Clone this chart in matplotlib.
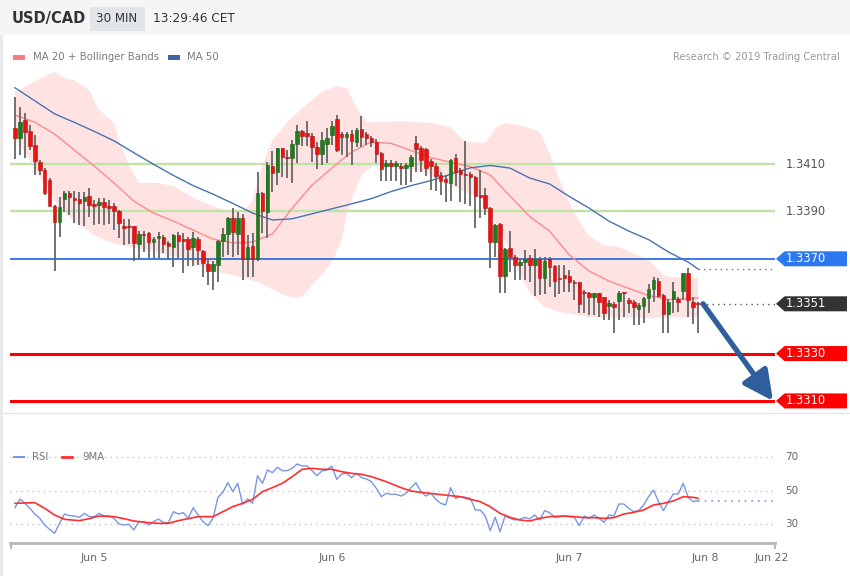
import numpy as np
import matplotlib
matplotlib.use("Agg")
import matplotlib.pyplot as plt
from matplotlib.patches import Polygon, Rectangle
from matplotlib.lines import Line2D
from matplotlib.transforms import IdentityTransform

plt.rcParams['font.family'] = ['DejaVu Sans']

# ---------------- data ----------------
opens = [1.34253, 1.34211, 1.34286, 1.34239, 1.34180, 1.34107, 1.34076, 1.34032, 1.33924, 1.33854,
         1.33952, 1.33976, 1.33955, 1.33952, 1.33944, 1.33966, 1.33930, 1.33927, 1.33941, 1.33921,
         1.33924, 1.33902, 1.33838, 1.33838, 1.33837, 1.33764, 1.33806, 1.33809, 1.33770, 1.33786,
         1.33792, 1.33765, 1.33751, 1.33800, 1.33782, 1.33782, 1.33748, 1.33782, 1.33733, 1.33678,
         1.33650, 1.33674, 1.33776, 1.33805, 1.33871, 1.33805, 1.33871, 1.33698, 1.33755, 1.33698,
         1.33979, 1.33899, 1.34092, 1.34068, 1.34166, 1.34131, 1.34124, 1.34184, 1.34239, 1.34230,
         1.34218, 1.34173, 1.34141, 1.34183, 1.34222, 1.34289, 1.34225, 1.34215, 1.34225, 1.34194,
         1.34246, 1.34225, 1.34208, 1.34192, 1.34145, 1.34092, 1.34105, 1.34092, 1.34093, 1.34084,
         1.34093, 1.34187, 1.34166, 1.34162, 1.34114, 1.34093, 1.34054, 1.34035, 1.34019, 1.34124,
         1.34075, 1.34058, 1.34058, 1.34046, 1.33969, 1.33969, 1.33913, 1.33770, 1.33846, 1.33629,
         1.33744, 1.33709, 1.33674, 1.33685, 1.33705, 1.33674, 1.33698, 1.33620, 1.33698, 1.33670,
         1.33620, 1.33632, 1.33629, 1.33603, 1.33601, 1.33561, 1.33557, 1.33537, 1.33554, 1.33537,
         1.33502, 1.33509, 1.33523, 1.33559, 1.33526, 1.33519, 1.33487, 1.33502, 1.33533, 1.33571,
         1.33608, 1.33547, 1.33466, 1.33529, 1.33530, 1.33564, 1.33639, 1.33519, 1.33510]
highs = [1.34384, 1.34342, 1.34315, 1.34265, 1.34222, 1.34117, 1.34083, 1.34041, 1.33926, 1.33962,
         1.33986, 1.33986, 1.33986, 1.33982, 1.33982, 1.33999, 1.33948, 1.33957, 1.33957, 1.33948,
         1.33935, 1.33906, 1.33868, 1.33868, 1.33840, 1.33817, 1.33817, 1.33814, 1.33793, 1.33814,
         1.33800, 1.33776, 1.33803, 1.33814, 1.33808, 1.33793, 1.33814, 1.33793, 1.33737, 1.33702,
         1.33692, 1.33779, 1.33829, 1.33878, 1.33913, 1.33899, 1.33889, 1.33800, 1.33808, 1.34068,
         1.33983, 1.34110, 1.34156, 1.34169, 1.34168, 1.34159, 1.34201, 1.34265, 1.34243, 1.34283,
         1.34230, 1.34194, 1.34236, 1.34251, 1.34283, 1.34307, 1.34236, 1.34236, 1.34243, 1.34251,
         1.34303, 1.34236, 1.34218, 1.34204, 1.34152, 1.34117, 1.34117, 1.34113, 1.34105, 1.34105,
         1.34138, 1.34218, 1.34176, 1.34166, 1.34120, 1.34103, 1.34068, 1.34054, 1.34120, 1.34142,
         1.34082, 1.34198, 1.34068, 1.34049, 1.34075, 1.33997, 1.33917, 1.33845, 1.33850, 1.33744,
         1.33819, 1.33716, 1.33702, 1.33737, 1.33716, 1.33741, 1.33706, 1.33706, 1.33706, 1.33674,
         1.33674, 1.33674, 1.33653, 1.33610, 1.33603, 1.33568, 1.33561, 1.33557, 1.33557, 1.33540,
         1.33526, 1.33519, 1.33565, 1.33561, 1.33533, 1.33526, 1.33512, 1.33540, 1.33592, 1.33622,
         1.33620, 1.33550, 1.33530, 1.33603, 1.33540, 1.33641, 1.33660, 1.33537, 1.33518]
lows = [1.34121, 1.34138, 1.34125, 1.34159, 1.34054, 1.34054, 1.33969, 1.33923, 1.33650, 1.33791,
        1.33897, 1.33885, 1.33851, 1.33843, 1.33838, 1.33878, 1.33843, 1.33847, 1.33843, 1.33847,
        1.33821, 1.33788, 1.33758, 1.33762, 1.33691, 1.33699, 1.33730, 1.33702, 1.33702, 1.33702,
        1.33724, 1.33695, 1.33667, 1.33702, 1.33640, 1.33670, 1.33670, 1.33674, 1.33624, 1.33589,
        1.33568, 1.33603, 1.33709, 1.33716, 1.33709, 1.33716, 1.33610, 1.33624, 1.33624, 1.33690,
        1.33808, 1.33786, 1.33983, 1.34011, 1.34046, 1.34040, 1.34021, 1.34103, 1.34176, 1.34176,
        1.34110, 1.34079, 1.34096, 1.34103, 1.34180, 1.34152, 1.34138, 1.34131, 1.34096, 1.34173,
        1.34173, 1.34180, 1.34173, 1.34103, 1.34030, 1.34030, 1.34030, 1.34030, 1.34011, 1.34011,
        1.34025, 1.34068, 1.34068, 1.34049, 1.33990, 1.33987, 1.33969, 1.33941, 1.33945, 1.34007,
        1.33941, 1.33931, 1.33923, 1.33831, 1.33871, 1.33885, 1.33660, 1.33709, 1.33557, 1.33557,
        1.33646, 1.33610, 1.33610, 1.33610, 1.33603, 1.33544, 1.33547, 1.33551, 1.33582, 1.33540,
        1.33551, 1.33561, 1.33561, 1.33526, 1.33470, 1.33470, 1.33463, 1.33463, 1.33456, 1.33442,
        1.33442, 1.33388, 1.33442, 1.33456, 1.33470, 1.33421, 1.33421, 1.33428, 1.33470, 1.33519,
        1.33540, 1.33388, 1.33388, 1.33473, 1.33477, 1.33526, 1.33456, 1.33425, 1.33388]
closes = [1.34211, 1.34276, 1.34236, 1.34177, 1.34113, 1.34076, 1.33978, 1.33924, 1.33854, 1.33919,
          1.33976, 1.33959, 1.33949, 1.33935, 1.33959, 1.33927, 1.33924, 1.33940, 1.33917, 1.33916,
          1.33902, 1.33850, 1.33831, 1.33833, 1.33767, 1.33803, 1.33802, 1.33770, 1.33783, 1.33796,
          1.33762, 1.33753, 1.33800, 1.33775, 1.33775, 1.33741, 1.33789, 1.33737, 1.33681, 1.33650,
          1.33678, 1.33775, 1.33805, 1.33871, 1.33812, 1.33871, 1.33698, 1.33751, 1.33698, 1.33979,
          1.33902, 1.34096, 1.34063, 1.34166, 1.34131, 1.34125, 1.34183, 1.34239, 1.34218, 1.34219,
          1.34173, 1.34141, 1.34201, 1.34211, 1.34260, 1.34159, 1.34215, 1.34225, 1.34198, 1.34243,
          1.34215, 1.34208, 1.34192, 1.34141, 1.34079, 1.34103, 1.34092, 1.34103, 1.34084, 1.34096,
          1.34131, 1.34162, 1.34117, 1.34082, 1.34093, 1.34051, 1.34028, 1.34023, 1.34117, 1.34068,
          1.34058, 1.34054, 1.34046, 1.33966, 1.33962, 1.33913, 1.33770, 1.33843, 1.33629, 1.33741,
          1.33709, 1.33674, 1.33688, 1.33698, 1.33674, 1.33698, 1.33620, 1.33691, 1.33667, 1.33606,
          1.33616, 1.33620, 1.33601, 1.33599, 1.33508, 1.33557, 1.33537, 1.33554, 1.33519, 1.33470,
          1.33515, 1.33498, 1.33557, 1.33554, 1.33515, 1.33498, 1.33505, 1.33533, 1.33571, 1.33610,
          1.33543, 1.33466, 1.33519, 1.33564, 1.33516, 1.33639, 1.33526, 1.33495, 1.33510]

ma20_idx = [0, 4, 8, 12, 16, 20, 24, 28, 32, 36, 40, 44, 48, 52, 56, 60, 64, 68, 72, 76, 80, 84,
            88, 92, 96, 100, 104, 108, 112, 116, 120, 124, 128, 132, 136, 138]
ma20 = [1.34307, 1.34277, 1.34227, 1.34159, 1.34092, 1.34020, 1.33944, 1.33893, 1.33859, 1.33821,
        1.33783, 1.33767, 1.33771, 1.33805, 1.33914, 1.34011, 1.34083, 1.34151, 1.34194, 1.34187,
        1.34157, 1.34127, 1.34108, 1.34089, 1.34054, 1.33965, 1.33878, 1.33817, 1.33716, 1.33648,
        1.33606, 1.33575, 1.33545, 1.33528, 1.33532, 1.33535]
ma50_idx = ma20_idx
ma50 = [1.34422, 1.34367, 1.34312, 1.34276, 1.34238, 1.34198, 1.34148, 1.34099, 1.34052, 1.34009,
        1.33973, 1.33934, 1.33893, 1.33864, 1.33869, 1.33890, 1.33911, 1.33932, 1.33954, 1.33984,
        1.34009, 1.34030, 1.34057, 1.34084, 1.34094, 1.34083, 1.34041, 1.34016, 1.33963, 1.33914,
        1.33859, 1.33817, 1.33781, 1.33729, 1.33686, 1.33657]
bb_up_idx = [0, 3, 6, 8, 10, 12, 15, 17, 20, 21, 23, 25, 29, 32, 37, 41, 46, 48, 50, 52, 55, 58,
             62, 65, 67, 69, 71, 78, 84, 88, 91, 95, 97, 99, 102, 106, 108, 110, 113, 116, 119,
             122, 128, 131, 132, 138]
bb_up = [1.34404, 1.34438, 1.34471, 1.34488, 1.34463, 1.34454, 1.34412, 1.34328, 1.34273, 1.34201,
         1.34096, 1.34020, 1.34020, 1.34007, 1.33948, 1.33914, 1.33893, 1.33948, 1.34096, 1.34201,
         1.34277, 1.34336, 1.34404, 1.34429, 1.34421, 1.34336, 1.34277, 1.34281, 1.34273, 1.34256,
         1.34193, 1.34189, 1.34252, 1.34273, 1.34265, 1.34235, 1.34146, 1.34032, 1.33893, 1.33796,
         1.33758, 1.33750, 1.33695, 1.33632, 1.33623, 1.33619]
bb_lo_idx = [0, 3, 6, 9, 13, 16, 19, 26, 34, 37, 41, 45, 49, 53, 56, 58, 60, 62, 64, 66, 67, 68,
             70, 73, 78, 84, 90, 95, 97, 100, 102, 104, 107, 110, 116, 128, 138]
bb_lo = [1.34210, 1.34117, 1.34011, 1.33914, 1.33843, 1.33800, 1.33771, 1.33737, 1.33703, 1.33674,
         1.33644, 1.33627, 1.33602, 1.33560, 1.33535, 1.33539, 1.33589, 1.33632, 1.33686, 1.33779,
         1.33885, 1.33948, 1.34054, 1.34104, 1.34096, 1.34054, 1.33990, 1.33948, 1.33855, 1.33737,
         1.33632, 1.33556, 1.33497, 1.33475, 1.33454, 1.33450, 1.33454]

rsi = [39.8, 45.0, 42.4, 39.4, 36.0, 33.4, 29.4, 26.8, 24.4, 30.4,
       36.0, 35.0, 34.8, 34.0, 36.4, 34.4, 34.4, 36.4, 34.8, 34.8,
       33.4, 30.0, 29.4, 29.8, 26.4, 31.4, 31.4, 29.4, 31.4, 33.0,
       30.8, 30.8, 37.4, 36.0, 36.8, 33.4, 39.8, 35.4, 31.4, 29.0,
       33.4, 46.0, 49.0, 54.8, 49.4, 54.4, 41.8, 45.0, 42.4, 59.0,
       54.4, 62.4, 60.8, 64.0, 62.0, 62.0, 63.4, 66.0, 64.8, 64.8,
       62.0, 59.0, 61.8, 62.4, 64.8, 56.8, 60.0, 60.4, 57.8, 60.4,
       57.8, 57.0, 55.4, 51.4, 46.4, 48.4, 47.8, 47.8, 46.8, 48.4,
       51.8, 54.8, 49.4, 46.8, 48.4, 44.8, 42.4, 41.4, 51.8, 45.4,
       46.4, 46.0, 45.4, 38.4, 38.4, 34.8, 26.0, 34.0, 25.4, 34.8,
       33.4, 32.4, 32.8, 34.0, 33.0, 35.4, 32.4, 38.0, 36.8, 34.0,
       34.4, 34.8, 34.4, 34.0, 29.0, 34.8, 33.4, 35.4, 33.4, 31.0,
       35.4, 34.8, 42.0, 42.0, 39.4, 37.4, 38.0, 41.4, 46.4, 50.4,
       43.4, 38.0, 43.4, 48.0, 48.0, 54.4, 46.0, 43.4, 44.0]
ma9_idx = [0, 4, 6, 8, 10, 13, 15, 17, 20, 22, 24, 27, 29, 31, 33, 35, 37, 40, 42, 44, 46, 48,
           50, 52, 54, 56, 58, 60, 62, 64, 66, 68, 70, 72, 75, 78, 80, 82, 85, 88, 90, 92, 94,
           96, 98, 100, 102, 104, 106, 108, 111, 113, 115, 117, 119, 121, 123, 125, 127, 129,
           131, 133, 135, 137, 138]
ma9 = [42.4, 42.8, 39.4, 35.4, 32.8, 32.0, 33.2, 34.8, 34.4, 33.2, 31.8, 30.8, 30.4, 30.4, 32.0,
       33.2, 34.4, 34.4, 37.4, 40.4, 42.4, 44.8, 49.4, 51.8, 54.4, 58.4, 62.8, 63.4, 62.8, 62.8,
       61.4, 60.4, 59.8, 58.4, 55.4, 51.8, 49.8, 49.0, 48.0, 47.0, 46.4, 44.8, 43.4, 40.4, 36.4,
       34.0, 32.4, 31.8, 33.4, 34.4, 34.8, 34.4, 33.8, 33.8, 33.4, 33.8, 36.0, 37.0, 38.4, 41.4,
       42.4, 43.8, 46.4, 46.0, 45.4]

levels_support = [1.3410, 1.3390]
level_pivot = 1.3370
last_price = closes[-1]
targets = [1.3330, 1.3310]
day_ticks = [16, 64, 112, 139.4, 152.9]
day_labels = ["Jun 5", "Jun 6", "Jun 7", "Jun 8", "Jun 22"]
rsi_levels = [30, 50, 70]

# ---------------- figure ----------------
W, H = 850, 576
fig = plt.figure(figsize=(W / 100, H / 100), dpi=100)
fig.patch.set_facecolor('white')


def fx(px):
    return px / W


def fy(py):
    return 1 - py / H


# header band
fig.add_artist(Rectangle((0, fy(35)), 1, 35 / H, transform=fig.transFigure,
                         facecolor='#f5f5f5', edgecolor='none', zorder=0))
fig.add_artist(Rectangle((fx(90), fy(31)), fx(55), 24 / H, transform=fig.transFigure,
                         facecolor='#e1e4e8', edgecolor='none', zorder=1))
fig.text(fx(12), fy(19), "USD/CAD", fontsize=10.5, fontweight='bold', color='#333333', va='center')
fig.text(fx(96.5), fy(19), "30 MIN", fontsize=8.6, color='#333333', va='center')
fig.text(fx(153), fy(19), "13:29:46 CET", fontsize=8.7, color='#333333', va='center')
# left border and separator
fig.add_artist(Line2D([fx(1), fx(1)], [fy(36), 0], transform=fig.transFigure, color='#e8e8e8', lw=2))
fig.add_artist(Line2D([fx(0), 1], [fy(413), fy(413)], transform=fig.transFigure, color='#e6e6e6', lw=1))

# legend main
fig.add_artist(Rectangle((fx(13), fy(59.5)), fx(12), 4.5 / H, transform=fig.transFigure,
                         facecolor='#ff7b7b', edgecolor='none'))
fig.text(fx(33), fy(57), "MA 20 + Bollinger Bands", fontsize=7.3, color='#7a7a7a', va='center')
fig.add_artist(Rectangle((fx(168), fy(59.5)), fx(12), 4.5 / H, transform=fig.transFigure,
                         facecolor='#3c64a6', edgecolor='none'))
fig.text(fx(187), fy(57), "MA 50", fontsize=7.3, color='#7a7a7a', va='center')
fig.text(fx(840), fy(57), "Research \u00a9 2019 Trading Central", fontsize=7.2, color='#9a9a9a',
         va='center', ha='right')

# ---------------- main axes ----------------
x_min, x_max = -1.01, 153.54
ax = fig.add_axes([fx(10), fy(413), fx(765), (413 - 66) / H])
ax.set_xlim(x_min, x_max)
ax.set_ylim(1.33049, 1.34514)
ax.axis('off')

# Bollinger band
poly_x = np.r_[bb_up_idx, bb_lo_idx[::-1]]
poly_y = np.r_[bb_up, bb_lo[::-1]]
ax.fill(poly_x, poly_y, color='#ffe3e3', lw=0, zorder=1)

for lv in levels_support:
    ax.axhline(lv, color='#bfe2a6', lw=1.7, zorder=2)
ax.axhline(level_pivot, color='#2f6fe0', lw=1.3, zorder=2)
for lv in targets:
    ax.axhline(lv, color='#ff0000', lw=2.2, zorder=2)

n = len(closes)
idx = np.arange(n)
ax.plot(ma20_idx, ma20, color='#ff8a8a', lw=1.0, zorder=3)
ax.plot(ma50_idx, ma50, color='#4872b4', lw=1.0, zorder=3)
ax.hlines(ma50[-1], ma50_idx[-1], x_max, color='#4872b4', lw=1.0, linestyles=(0, (1, 3)), zorder=3)
ax.hlines(last_price, n - 0.5, x_max, color='#555555', lw=1.0, linestyles=(0, (1, 3)), zorder=3)

o = np.array(opens); h = np.array(highs); l = np.array(lows); c = np.array(closes)
up = c > o
ax.vlines(idx, l, h, color='#666666', lw=1.3, zorder=4)
body_bottom = np.minimum(o, c)
body_h = np.maximum(np.abs(c - o), 0.00004)
cols = np.where(up, '#1d7d1d', '#ee1111')
edges = np.where(up, '#195f19', '#b01010')
ax.bar(idx, body_h, bottom=body_bottom, width=0.72, color=cols, edgecolor=edges, lw=0.4, zorder=5)

# forecast arrow
ax.annotate('', xy=(x_max - 0.4, targets[-1]), xytext=(n, last_price),
            arrowprops=dict(arrowstyle='-|>,head_length=0.9,head_width=0.45', lw=3.8,
                            color='#2e5e9c', shrinkA=0, shrinkB=0, mutation_scale=20),
            annotation_clip=False, zorder=6)

fig.canvas.draw()


def tag(price, color, text, boxed=True):
    y = ax.transData.transform((0, price))[1]
    if boxed:
        pts = [(776, y), (784.5, y + 7.5), (847, y + 7.5), (847, y - 7.5), (784.5, y - 7.5)]
        fig.add_artist(Polygon(pts, closed=True, transform=IdentityTransform(),
                               facecolor=color, edgecolor='none'))
        fig.text(786, y, text, transform=IdentityTransform(), fontsize=8.3, color='white',
                 va='center', ha='left')
    else:
        fig.text(786, y, text, transform=IdentityTransform(), fontsize=8.3, color='#555555',
                 va='center', ha='left')


for lv in levels_support:
    tag(lv, None, f"{lv:.4f}", boxed=False)
tag(level_pivot, '#2b78f0', f"{level_pivot:.4f}")
tag(last_price, '#333333', f"{last_price:.4f}")
for lv in targets:
    tag(lv, '#ff0000', f"{lv:.4f}")

# ---------------- RSI axes ----------------
rax = fig.add_axes([fx(10), fy(543), fx(765), 98 / H])
rax.set_xlim(x_min, x_max)
rax.set_ylim(18.6, 77.4)
for s in ['top', 'left', 'right']:
    rax.spines[s].set_visible(False)
rax.spines['bottom'].set_color('#b8b8b8')
rax.spines['bottom'].set_linewidth(2)
rax.set_yticks([])
rax.set_xticks(day_ticks)
rax.set_xticklabels(day_labels, fontsize=7.8, color='#666666')
rax.tick_params(axis='x', length=0, pad=7)
for v in rsi_levels:
    rax.axhline(v, color='#c4c4c4', lw=1, ls=(0, (1, 3)))
rax.plot(idx, rsi, color='#7896e6', lw=1.0)
rax.hlines(rsi[-1], n - 1, x_max - 0.3, color='#7896e6', lw=1.2, linestyles=(0, (1, 3)))
rax.plot(ma9_idx, ma9, color='#ff2f2f', lw=1.2)
fig.canvas.draw()
for v in rsi_levels:
    y = rax.transData.transform((0, v))[1]
    fig.text(785, y, f"{v}", transform=IdentityTransform(), fontsize=7.5, color='#666666',
             va='center', ha='left')
# end ticks of the axis
for xp in [11, 775]:
    fig.add_artist(Line2D([fx(xp), fx(xp)], [fy(543), fy(548)], transform=fig.transFigure,
                          color='#b8b8b8', lw=1.5))

# RSI legend
fig.add_artist(Line2D([fx(14), fx(24)], [fy(457), fy(457)], transform=fig.transFigure,
                      color='#7896e6', lw=1.5))
fig.text(fx(32), fy(457), "RSI", fontsize=7.3, color='#777777', va='center')
fig.add_artist(Line2D([fx(62), fx(72)], [fy(457), fy(457)], transform=fig.transFigure,
                      color='#ff2f2f', lw=2))
fig.text(fx(82), fy(457), "9MA", fontsize=7.3, color='#777777', va='center')

fig.savefig("out.png", dpi=100)
